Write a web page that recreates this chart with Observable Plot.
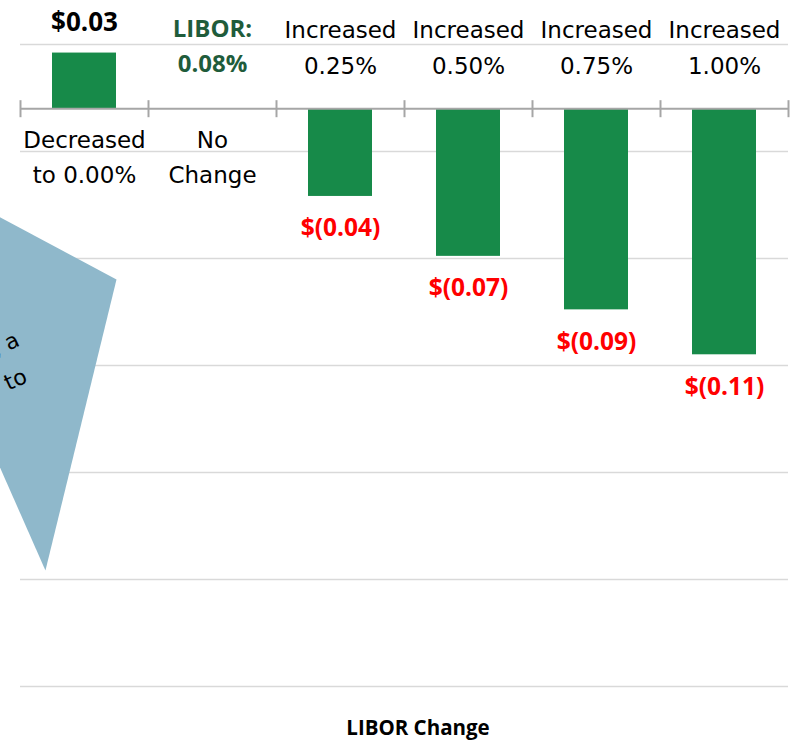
<!DOCTYPE html>
<html>
<head>
<meta charset="utf-8">
<script src="https://cdn.jsdelivr.net/npm/d3@7"></script>
<script src="https://cdn.jsdelivr.net/npm/@observablehq/plot@0.6"></script>
<style>
  html, body { margin: 0; padding: 0; background: #fff; }
  #wrap { width: 797px; height: 742px; overflow: hidden; position: relative; }
  #title { font-family: "Open Sans", sans-serif; font-weight: bold; font-size: 20.5px; line-height: 20px;
           padding-top: 17px; padding-left: 39px; text-align: center; width: 758px; color: #000; }
</style>
</head>
<body>
<div id="wrap">
  <div id="chart"></div>
  <div id="title"></div>
</div>
<script>
// ---- data ----
const categories = ["Decreased\nto 0.00%", "No\nChange", "Increased\n0.25%", "Increased\n0.50%", "Increased\n0.75%", "Increased\n1.00%"];
const values = [0.026, 0, -0.041, -0.069, -0.094, -0.115];
const valueLabels = ["$0.03", "", "$(0.04)", "$(0.07)", "$(0.09)", "$(0.11)"];
const gridTicks = [0.03, -0.02, -0.07, -0.12, -0.17, -0.22, -0.27];
const liborLabel = "LIBOR:\n0.08%";
const axisTitle = "LIBOR Change";
// callout shape (partially outside the chart on the left), in category/value units
const calloutX = [-0.625, 0.75, 0.195, -0.625];
const calloutY = [-0.0359, -0.0798, -0.2158, -0.1046];
const calloutTexts = [", a", "to"];
const calloutTextX = [-0.02, 0.04];
const calloutTextY = [-0.1075, -0.1245];

const rows = categories.map((c, i) => ({i, c, v: values[i], label: valueLabels[i]}));
const callout = calloutX.map((x, k) => ({x, y: calloutY[k]}));
const calloutLabels = calloutTexts.map((t, k) => ({t, x: calloutTextX[k], y: calloutTextY[k]}));

const regular = "DejaVu Sans, sans-serif";
const bold = "Open Sans, sans-serif";

const chart = Plot.plot({
  width: 797,
  height: 700,
  marginLeft: 20,
  marginRight: 9,
  marginTop: 44,
  marginBottom: 14,
  style: {background: "#fff"},
  x: {domain: [0, categories.length], axis: null},
  y: {domain: [gridTicks[gridTicks.length - 1], gridTicks[0]], axis: null},
  marks: [
    Plot.ruleY(gridTicks, {stroke: "#d9d9d9", strokeWidth: 1.5}),
    Plot.line(callout, {x: "x", y: "y", fill: "#8fb8cb", stroke: "none"}),
    Plot.text(calloutLabels, {x: "x", y: "y", text: "t", textAnchor: "end", rotate: -25,
      fontFamily: regular, fontSize: 22, fill: "#000"}),
    Plot.rectY(rows.filter(d => d.v !== 0), {x1: d => d.i + 0.25, x2: d => d.i + 0.75, y1: 0, y2: "v", fill: "#178a49"}),
    Plot.ruleY([0], {stroke: "#a6a6a6", strokeWidth: 2}),
    Plot.ruleX(d3.range(categories.length + 1), {x: d => d, y1: 0, y2: 0, insetTop: -8, insetBottom: -9,
      stroke: "#a6a6a6", strokeWidth: 2}),
    // category labels: below axis for positive/no-change, above for decreases
    Plot.text(rows.filter(d => d.v >= 0), {x: d => d.i + 0.5, y: 0, text: "c", dy: 45.5,
      lineAnchor: "middle", lineHeight: 1.55, fontFamily: regular, fontSize: 23, fill: "#000"}),
    Plot.text(rows.filter(d => d.v < 0), {x: d => d.i + 0.5, y: 0, text: "c", dy: -64,
      lineAnchor: "middle", lineHeight: 1.57, fontFamily: regular, fontSize: 23, fill: "#000"}),
    // LIBOR current label
    Plot.text([liborLabel], {x: 1.5, y: 0, text: d => d, dy: -65.5, lineAnchor: "middle", lineHeight: 1.46,
      fontFamily: bold, fontWeight: "bold", fontSize: 24, fill: "#1f5c3b"}),
    // value labels
    Plot.text(rows.filter(d => d.v > 0), {x: d => d.i + 0.5, y: "v", text: "label", dy: -30,
      fontFamily: bold, fontWeight: "bold", fontSize: 26, fill: "#000"}),
    Plot.text(rows.filter(d => d.v < 0), {x: d => d.i + 0.5, y: "v", text: "label", dy: 32,
      fontFamily: bold, fontWeight: "bold", fontSize: 24.5, fill: "#ff0000"})
  ]
});
document.getElementById("chart").appendChild(chart);
document.getElementById("title").textContent = axisTitle;
</script>
</body>
</html>
